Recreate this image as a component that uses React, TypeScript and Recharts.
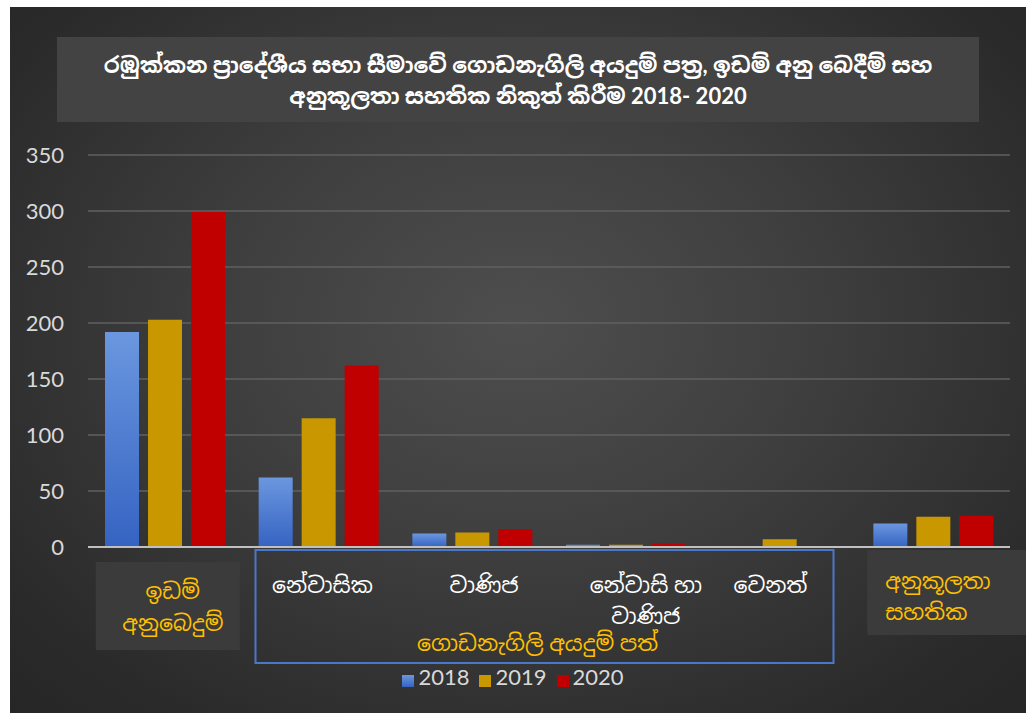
import React from 'react';
import { BarChart, Bar, XAxis, YAxis, CartesianGrid, Legend } from 'recharts';

const categories = ['ඉඩම් අනුබෙදුම්', 'නේවාසික', 'වාණිජ', 'නේවාසි හා වාණිජ', 'වෙනත්', 'අනුකූලතා සහතික'];
const categoryLines = [['ඉඩම්', 'අනුබෙදුම්'], ['නේවාසික'], ['වාණිජ'], ['නේවාසි හා', 'වාණිජ'], ['වෙනත්'], ['අනුකූලතා', 'සහතික']];
const values2018 = [192, 62, 12, 2, 0, 21];
const values2019 = [203, 115, 13, 2, 7, 27];
const values2020 = [299, 162, 16, 3, 0, 28];
const yTicks = [0, 50, 100, 150, 200, 250, 300, 350];
const titleLines = ['රඹුක්කන ප්‍රාදේශීය සභා සීමාවේ ගොඩනැගිලි අයදුම් පත්‍ර, ඉඩම් අනු බෙදීම් සහ', 'අනුකූලතා සහතික නිකුත් කිරීම 2018- 2020'];
const groupLabel = 'ගොඩනැගිලි අයදුම් පත්';

const data = categories.map((name, i) => ({
  name,
  y2018: values2018[i],
  y2019: values2019[i],
  y2020: values2020[i],
}));

const FONT = "Lato, 'Noto Sans Sinhala', 'Iskoola Pota', 'Open Sans', sans-serif";
const GOLD_TEXT = '#ffc000';
const LABEL_SIZE = 22;

function CategoryTick(props: any) {
  const { x, y, payload } = props;
  const idx = categories.indexOf(payload.value);
  const lines = categoryLines[idx] || [payload.value];

  if (idx === 0) {
    return (
      <g>
        <rect x={x - 69} y={y + 15} width={144} height={88} fill="#3b3b3b" />
        {lines.map((l, i) => (
          <text key={i} x={x + 8} y={y + 46 + i * 32} textAnchor="middle" dominantBaseline="middle" fill={GOLD_TEXT} fontSize={LABEL_SIZE} fontFamily={FONT}>
            {l}
          </text>
        ))}
      </g>
    );
  }
  if (idx === 5) {
    return (
      <g>
        <rect x={x - 66} y={y + 3} width={170} height={85} fill="#3b3b3b" />
        {lines.map((l, i) => (
          <text key={i} x={x - 48} y={y + 36 + i * 31} textAnchor="start" dominantBaseline="middle" fill={GOLD_TEXT} fontSize={LABEL_SIZE} fontFamily={FONT}>
            {l}
          </text>
        ))}
      </g>
    );
  }
  const shift = idx === 2 ? 12 : idx === 4 ? -9 : idx === 3 ? 20 : 4;
  return (
    <g>
      {idx === 1 && (
        <g>
          <rect x={x - 63} y={y + 3} width={578} height={113} fill="none" stroke="#4a78c8" strokeWidth={2} />
          <text x={x + 219} y={y + 98} textAnchor="middle" dominantBaseline="middle" fill={GOLD_TEXT} fontSize={LABEL_SIZE} fontFamily={FONT}>
            {groupLabel}
          </text>
        </g>
      )}
      {lines.map((l, i) => (
        <text key={i} x={x + shift} y={y + 40 + i * 31} textAnchor="middle" dominantBaseline="middle" fill="#ffffff" fontSize={LABEL_SIZE} fontFamily={FONT}>
          {l}
        </text>
      ))}
    </g>
  );
}

export default function App() {
  return (
    <div style={{ position: 'absolute', left: 0, top: 0, width: 1026, height: 713, background: '#ffffff' }}>
      <div
        style={{
          position: 'absolute',
          left: 10,
          top: 7,
          width: 1016,
          height: 706,
          background: 'radial-gradient(ellipse at 50% 45%, #4e4e4e 0%, #3f3f3f 40%, #2a2a2a 85%, #262626 100%)',
          overflow: 'hidden',
        }}
      >
        <div
          style={{
            position: 'absolute',
            left: 47,
            top: 30,
            width: 922,
            height: 85,
            background: '#434343',
            color: '#ffffff',
            fontFamily: FONT,
            fontWeight: 'bold',
            fontSize: 22,
            textAlign: 'center',
            display: 'flex',
            flexDirection: 'column',
            justifyContent: 'center',
            lineHeight: '31px',
          }}
        >
          <div>{titleLines[0]}</div>
          <div>{titleLines[1]}</div>
        </div>
        <BarChart
          width={1016}
          height={706}
          data={data}
          margin={{ top: 148, right: 16, bottom: 0, left: 0 }}
          barCategoryGap={17}
          barGap={9}
          style={{ position: 'absolute', left: 0, top: 0 }}
        >
          <defs>
            <linearGradient id="blueGrad" x1="0" y1="0" x2="0" y2="1">
              <stop offset="0%" stopColor="#6b97df" />
              <stop offset="100%" stopColor="#3563c2" />
            </linearGradient>
          </defs>
          <CartesianGrid vertical={false} stroke="#606060" strokeWidth={1.5} />
          <XAxis
            dataKey="name"
            axisLine={{ stroke: '#c0c0c0', strokeWidth: 2 }}
            tickLine={false}
            tickSize={0}
            tickMargin={0}
            interval={0}
            height={166}
            tick={(p: any) => <CategoryTick {...p} />}
          />
          <YAxis
            width={78}
            domain={[0, 350]}
            ticks={yTicks}
            axisLine={false}
            tickLine={false}
            tickSize={0}
            tickMargin={24}
            tick={{ fill: '#d9d9d9', fontSize: 22, fontFamily: FONT }}
          />
          <Legend
            verticalAlign="middle"
            align="center"
            iconType="square"
            iconSize={12}
            wrapperStyle={{ top: 656, left: 0, width: 1016, fontFamily: FONT }}
            formatter={(v: string) => <span style={{ color: '#d9d9d9', fontSize: 22 }}>{v}</span>}
          />
          <Bar dataKey="y2018" name="2018" fill="url(#blueGrad)" barSize={34} isAnimationActive={false} legendType="square" />
          <Bar dataKey="y2019" name="2019" fill="#c99800" barSize={34} isAnimationActive={false} />
          <Bar dataKey="y2020" name="2020" fill="#c00000" barSize={34} isAnimationActive={false} />
        </BarChart>
      </div>
    </div>
  );
}
